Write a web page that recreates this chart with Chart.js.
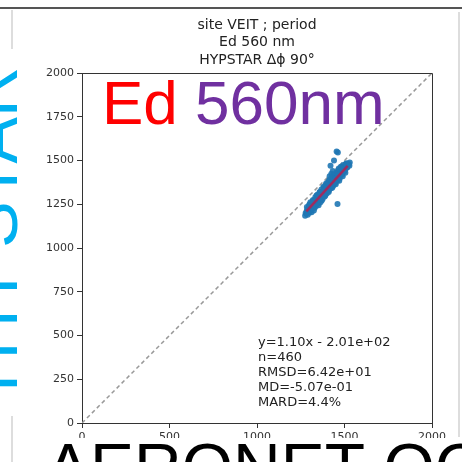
<!DOCTYPE html>
<html>
<head>
<meta charset="utf-8">
<script src="https://cdn.jsdelivr.net/npm/chart.js@4"></script>
<style>
  html, body { margin: 0; padding: 0; background: #fff; }
  canvas { display: block; }
</style>
</head>
<body>
<canvas id="ed560" width="462" height="462"></canvas>
<script>
// AERONET-OC Ed (x) against HYPSTAR Ed (y), 560 nm
var aeronetEd = [
  1275, 1278, 1282, 1285, 1288, 1290, 1292, 1295, 1297, 1299, 1300, 1301, 1303, 1305, 1307,
  1309, 1311, 1313, 1315, 1317, 1319, 1320, 1320, 1322, 1324, 1326, 1328, 1330, 1330, 1332,
  1334, 1336, 1338, 1340, 1340, 1342, 1344, 1346, 1348, 1350, 1350, 1352, 1354, 1356, 1358,
  1360, 1360, 1362, 1364, 1366, 1368, 1370, 1370, 1372, 1374, 1376, 1378, 1380, 1380, 1382,
  1384, 1386, 1388, 1390, 1390, 1392, 1394, 1395, 1396, 1398, 1400, 1402, 1404, 1406, 1408,
  1410, 1410, 1410, 1412, 1414, 1416, 1418, 1420, 1420, 1422, 1424, 1425, 1426, 1428, 1430,
  1430, 1432, 1434, 1436, 1438, 1440, 1440, 1442, 1444, 1445, 1446, 1448, 1450, 1450, 1452,
  1454, 1455, 1456, 1458, 1460, 1460, 1462, 1462, 1464, 1465, 1466, 1468, 1470, 1470, 1472,
  1474, 1476, 1478, 1480, 1482, 1484, 1485, 1486, 1488, 1490, 1490, 1492, 1494, 1496, 1498,
  1500, 1503, 1505, 1506, 1510, 1512, 1514, 1515, 1518, 1520,
  1285, 1290, 1298, 1305, 1312, 1318, 1325, 1333, 1338, 1345, 1352, 1357, 1363, 1368, 1375,
  1381, 1387, 1393, 1399, 1405, 1411, 1417, 1423, 1429, 1435, 1441, 1447, 1453, 1459, 1467,
  1473, 1479, 1487, 1493, 1499, 1507, 1525, 1530, 1528, 1433, 1425, 1415
];
var hypstarEd = [
  1185, 1200, 1196, 1215, 1204, 1222, 1209, 1230, 1214, 1201, 1250, 1226, 1238, 1219, 1231,
  1245, 1222, 1236, 1251, 1229, 1243, 1258, 1275, 1237, 1249, 1266, 1244, 1257, 1230, 1272,
  1251, 1263, 1279, 1256, 1300, 1270, 1286, 1262, 1278, 1293, 1255, 1270, 1284, 1301, 1276,
  1291, 1320, 1307, 1283, 1298, 1315, 1290, 1272, 1305, 1322, 1297, 1312, 1329, 1350, 1304,
  1319, 1336, 1311, 1326, 1300, 1343, 1318, 1368, 1333, 1351, 1325, 1340, 1358, 1332, 1347,
  1365, 1385, 1320, 1339, 1355, 1372, 1346, 1362, 1470, 1379, 1353, 1400, 1369, 1386, 1361,
  1345, 1376, 1393, 1368, 1383, 1400, 1500, 1375, 1391, 1420, 1407, 1382, 1398, 1365, 1414,
  1390, 1552, 1405, 1421, 1397, 1252, 1412, 1546, 1428, 1445, 1404, 1420, 1435, 1385, 1411,
  1427, 1442, 1419, 1434, 1449, 1426, 1462, 1441, 1456, 1433, 1410, 1448, 1462, 1440, 1455,
  1467, 1447, 1430, 1460, 1472, 1485, 1458, 1462, 1470, 1478,
  1235, 1190, 1245, 1262, 1205, 1268, 1215, 1290, 1240, 1305, 1245, 1318, 1262, 1335, 1280,
  1345, 1295, 1360, 1312, 1375, 1330, 1392, 1342, 1405, 1355, 1418, 1372, 1430, 1385, 1455,
  1398, 1465, 1420, 1475, 1438, 1480, 1480, 1488, 1470, 1440, 1425, 1410
];

// linear fit and statistics shown in the corner box
var fitSlope = 1.10;
var fitIntercept = -201;
var fitRange = [1282, 1518];
var statLines = ['y=1.10x - 2.01e+02', 'n=460', 'RMSD=6.42e+01', 'MD=-5.07e-01', 'MARD=4.4%'];

var titleLines = ['site VEIT ; period', 'Ed 560 nm', 'HYPSTAR \u0394\u03d5 90\u00b0'];
var axisMin = 0;
var axisMax = 2000;
var xStep = 500;
var yStep = 250;

var points = aeronetEd.map(function (x, i) { return { x: x, y: hypstarEd[i] }; });
var fitLine = fitRange.map(function (x) { return { x: x, y: fitSlope * x + fitIntercept }; });
var oneToOne = [{ x: axisMin, y: axisMin }, { x: axisMax, y: axisMax }];

var mplFont = '"DejaVu Sans", sans-serif';
var axisColor = '#333';

// spines, title, stats and the big captions around the plot
var decorations = {
  id: 'decorations',
  afterDraw: function (chart) {
    var ctx = chart.ctx;
    var a = chart.chartArea;
    ctx.save();

    ctx.strokeStyle = axisColor;
    ctx.lineWidth = 1;
    ctx.beginPath();
    ctx.moveTo(a.left, a.top + 0.5);
    ctx.lineTo(a.right + 0.5, a.top + 0.5);
    ctx.lineTo(a.right + 0.5, a.bottom);
    ctx.stroke();

    // plot picture ends just below the x tick labels
    ctx.fillStyle = '#fff';
    ctx.fillRect(0, 438, 462, 24);

    // frame lines
    ctx.fillStyle = '#555';
    ctx.fillRect(0, 7, 462, 2);
    ctx.fillStyle = '#ddd';
    ctx.fillRect(11, 10, 2, 39);
    ctx.fillRect(11, 416, 2, 46);
    ctx.fillRect(458, 12, 2, 425);

    ctx.fillStyle = '#222';
    ctx.font = '14px ' + mplFont;
    ctx.textAlign = 'center';
    ctx.textBaseline = 'middle';
    titleLines.forEach(function (t, i) {
      ctx.fillText(t, (a.left + a.right) / 2, 25 + i * 17.5);
    });

    ctx.textAlign = 'left';
    ctx.font = '13px ' + mplFont;
    statLines.forEach(function (t, i) {
      ctx.fillText(t, 258, 343 + i * 15);
    });

    ctx.textBaseline = 'alphabetic';
    ctx.font = '62px "Liberation Sans", Arial, sans-serif';
    ctx.fillStyle = '#ff0000';
    ctx.fillText('Ed', 102, 124);
    var edW = ctx.measureText('Ed ').width;
    ctx.fillStyle = '#7030a0';
    ctx.fillText('560nm', 102 + edW, 124);

    ctx.font = '66px "Liberation Sans", Arial, sans-serif';
    ctx.fillStyle = '#000';
    ctx.fillText('AERONET-OC', 46, 490);

    ctx.save();
    ctx.translate(17, 392);
    ctx.rotate(-Math.PI / 2);
    ctx.font = '70px "Liberation Sans", Arial, sans-serif';
    ctx.fillStyle = '#00b0f0';
    ctx.fillText('HYPSTAR', 0, 0);
    ctx.restore();

    ctx.restore();
  }
};

function axisOptions(step, fit) {
  return {
    type: 'linear',
    min: axisMin,
    max: axisMax,
    afterFit: fit,
    ticks: {
      stepSize: step,
      color: axisColor,
      padding: 3,
      font: { family: 'DejaVu Sans', size: 11 },
      callback: function (v) { return String(v); }
    },
    grid: {
      drawOnChartArea: false,
      drawTicks: true,
      tickLength: 5,
      color: axisColor
    },
    border: { display: true, color: axisColor, width: 1 }
  };
}

new Chart(document.getElementById('ed560'), {
  type: 'scatter',
  data: {
    datasets: [
      {
        type: 'line',
        label: 'fit',
        data: fitLine,
        borderColor: 'rgba(180, 30, 80, 0.85)',
        borderWidth: 2.5,
        pointRadius: 0,
        fill: false
      },
      {
        label: 'matchups',
        data: points,
        backgroundColor: 'rgba(31, 119, 180, 0.9)',
        borderColor: 'rgba(31, 119, 180, 0.9)',
        pointRadius: 3,
        borderWidth: 0
      },
      {
        type: 'line',
        label: '1:1',
        data: oneToOne,
        borderColor: '#999',
        borderWidth: 1.5,
        borderDash: [4, 3],
        pointRadius: 0,
        fill: false
      }
    ]
  },
  options: {
    responsive: false,
    animation: false,
    devicePixelRatio: 1,
    layout: { padding: { top: 73, right: 30, bottom: 0, left: 0 } },
    plugins: {
      legend: { display: false },
      tooltip: { enabled: false }
    },
    scales: {
      x: axisOptions(xStep, function (s) { s.height = 39; }),
      y: axisOptions(yStep, function (s) { s.width = 82; })
    }
  },
  plugins: [decorations]
});
</script>
</body>
</html>
